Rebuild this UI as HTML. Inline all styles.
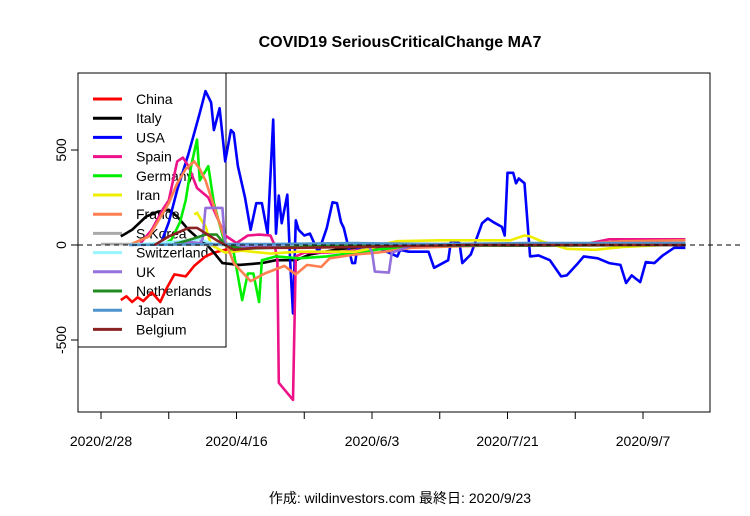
<!DOCTYPE html>
<html><head><meta charset="utf-8"><style>
body{margin:0;background:#fff;}
svg text{font-family:"Liberation Sans","Noto Sans CJK JP",sans-serif;}
</style></head><body>
<svg id="chart" width="750" height="511" xmlns="http://www.w3.org/2000/svg">
<rect width="750" height="511" fill="#fff"/>
<text x="400" y="47" text-anchor="middle" font-size="16" font-weight="bold">COVID19 SeriousCriticalChange MA7</text>
<text x="400" y="503" text-anchor="middle" font-size="14">作成: wildinvestors.com 最終日: 2020/9/23</text>
<g id="legend"></g>
<g id="series"></g>
<g id="axes"></g>
</svg>
<script>
const seriesNames=["China","Italy","USA","Spain","Germany","Iran","France","S.Korea","Switzerland","UK","Netherlands","Japan","Belgium"];
const seriesColors=["#FF0000","#000000","#0000FF","#EE1289","#00EE00","#EEEE00","#FF7F50","#A9A9A9","#98F5FF","#9370DB","#228B22","#4F94CD","#8B2323"];
const xTickLabels=["2020/2/28","2020/4/16","2020/6/3","2020/7/21","2020/9/7"];
const xTickDays=[0,48,96,144,192];
const yTickValues=[500,0,-500];
// series: day offsets from 2020/2/28 and values
const chinaDays=[7,9,11,13,15,18,21,23,26,30,33,37,40,44,50,80,120,160,207];
const chinaVals=[-290,-270,-300,-275,-295,-250,-300,-235,-155,-165,-110,-60,-40,-25,-5,0,0,0,0];
const italyDays=[7,11,16,20,24,27,31,34,37,40,43,49,57,62,69,74,85,100,207];
const italyVals=[45,80,150,175,185,150,80,40,10,-40,-95,-105,-95,-80,-80,-50,-20,-5,0];
const usaDays=[21,24,27,31,35,37,39,40,42,44,46,47,48.5,51,53,55,57,59,61,62,63,64,66,67,68,69,70,72,74,76,77,80,82,83.6,85,86,89,90,91,92,94,98,105,106,109,116,118,123,124,127,128,131,135,137,139,142,143,144,146,147,148,150,152,155,159,163,165,169,171,176,180,184,186,188,191,193,196,199,203,207];
const usaVals=[0,120,290,480,695,810,750,605,720,440,605,590,415,250,80,220,220,60,660,60,260,115,265,-80,-360,130,80,50,60,-5,-40,90,225,220,120,90,-95,-95,10,-40,-10,-15,-60,-25,-35,-35,-120,-80,25,10,-95,-50,115,140,120,95,50,380,380,325,350,325,-60,-55,-80,-165,-160,-95,-60,-70,-95,-105,-200,-160,-195,-90,-95,-55,-15,-15,5];
const spainDays=[14,18,22,24,27,29,31,34,38,41,44,48,52,56,60,61.5,62.5,63,68,69,72,80,90,110,150,170,180,207];
const spainVals=[10,80,190,235,440,460,415,300,250,150,50,10,50,55,50,0,-80,-725,-815,-60,-40,-40,-30,-10,0,0,30,30];
const germanyDays=[22,25,28,30,32,34,35,38,40,44,47,50,52,54,56,57,62,70,80,90,100,130,207];
const germanyVals=[0,30,120,235,420,555,340,415,220,0,-40,-290,-150,-150,-300,-80,-60,-70,-60,-40,-20,0,5];
const iranDays=[33,34,36,37,39,44,50,60,70,80,90,95,100,105,120,135,145,150,152,156,165,175,185,207];
const iranVals=[160,170,120,100,0,-40,-30,-45,-35,-35,-35,-20,5,20,25,25,25,50,45,20,-20,-25,-10,5];
const franceDays=[10,17,24,27,30,33,35,37,40,44,47,53,58,65,69,73,78,81,90,98,110,130,170,185,207];
const franceVals=[0,45,220,325,400,440,400,340,205,25,-95,-190,-150,-110,-155,-105,-115,-70,-50,-40,-15,-5,5,20,25];
const skoreaDays=[0,20,40,100,150,207];
const skoreaVals=[5,5,0,5,5,10];
const switzDays=[10,25,35,40,50,80,207];
const switzVals=[0,15,30,5,-5,0,0];
const ukDays=[26,32,35,36,37,43,44,50,70,95,96,97,102,103,110,150,207];
const ukVals=[10,15,10,30,195,195,0,-10,-10,-10,-35,-140,-145,-40,-5,0,5];
const nethDays=[25,32,37,41,44,50,60,80,207];
const nethVals=[0,30,55,55,0,-20,-15,-5,0];
const japanDays=[10,40,60,90,120,150,180,207];
const japanVals=[0,5,5,10,5,10,10,10];
const belgiumDays=[19,24,31,34,41,47,55,70,90,130,207];
const belgiumVals=[0,45,90,90,25,-25,-15,-15,-10,0,0];
const allDays=[chinaDays,italyDays,usaDays,spainDays,germanyDays,iranDays,franceDays,skoreaDays,switzDays,ukDays,nethDays,japanDays,belgiumDays];
const allVals=[chinaVals,italyVals,usaVals,spainVals,germanyVals,iranVals,franceVals,skoreaVals,switzVals,ukVals,nethVals,japanVals,belgiumVals];

const NS="http://www.w3.org/2000/svg";
const xScale=d=>101+d*2.823;
const yScale=v=>245-v*0.19;
function mk(tag,attrs,parent){const e=document.createElementNS(NS,tag);for(const k in attrs)e.setAttribute(k,attrs[k]);parent.appendChild(e);return e;}
const axes=document.getElementById('axes');
const sg=document.getElementById('series');
const lg=document.getElementById('legend');

// legend
const lbox=mk('rect',{x:78,y:73,width:148,height:274,fill:'none',stroke:'#000','stroke-width':1},lg);


seriesNames.forEach((n,i)=>{
  const y=99+i*19.2;
  const l=mk('line',{x1:93,x2:122,y1:y,y2:y,stroke:seriesColors[i],'stroke-width':3},lg);
  
  
  const t=mk('text',{x:136,y:y+5,'font-size':14},lg);
  t.textContent=n;
  
  
});

// series
allDays.forEach((days,i)=>{
  const pts=days.map((d,j)=>xScale(d).toFixed(1)+','+yScale(allVals[i][j]).toFixed(1)).join(' ');
  const p=mk('polyline',{points:pts,fill:'none',stroke:seriesColors[i],'stroke-width':2.6,'stroke-linejoin':'round'},sg);
  
  
});

// zero line
const z=mk('line',{x1:78,x2:740,y1:yScale(0),y2:yScale(0),stroke:'#000','stroke-width':1,'stroke-dasharray':'5,4'},axes);


// plot box
const box=mk('rect',{x:78,y:73,width:632,height:339,fill:'none',stroke:'#000','stroke-width':1},axes);


// y ticks
yTickValues.forEach(v=>{
  const y=yScale(v);
  const t=mk('line',{x1:71,x2:78,y1:y,y2:y,stroke:'#000'},axes);
  
  
  const tx=mk('text',{x:0,y:0,'font-size':14,'text-anchor':'middle',transform:'translate(66,'+y+') rotate(-90)'},axes);
  tx.textContent=String(v);
  
  
});
// x ticks (major + minor)
for(let d=0;d<=216;d+=24){
  const x=xScale(d);
  if(x>710)break;
  const t=mk('line',{x1:x,x2:x,y1:412,y2:419,stroke:'#000'},axes);
  
  
}
xTickDays.forEach((d,i)=>{
  const tx=mk('text',{x:xScale(d),y:446,'font-size':14,'text-anchor':'middle'},axes);
  tx.textContent=xTickLabels[i];
  
  
});
</script>
</body></html>
